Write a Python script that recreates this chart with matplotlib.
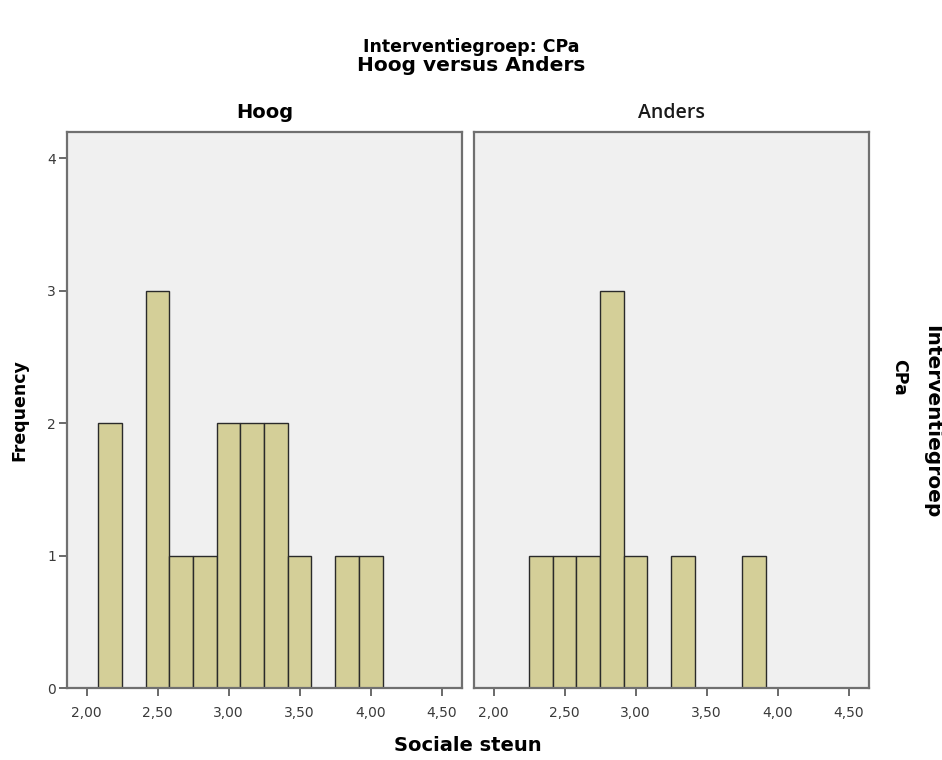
import numpy as np
import matplotlib
matplotlib.use('Agg')
import matplotlib.pyplot as plt
from matplotlib.ticker import FuncFormatter

plt.rcParams['font.family'] = ['DejaVu Sans']

# bin edges (bin width about 1/6)
bin_edges = [2.083, 2.250, 2.417, 2.583, 2.750, 2.917, 3.083,
             3.250, 3.417, 3.583, 3.750, 3.917, 4.083]
# counts per bin
hoog_counts = [2, 0, 3, 1, 1, 2, 2, 2, 1, 0, 1, 1]
anders_counts = [0, 1, 1, 1, 3, 1, 0, 1, 0, 0, 1, 0]

panel_titles = ['Hoog', 'Anders']
x_ticks = [2.0, 2.5, 3.0, 3.5, 4.0, 4.5]
y_ticks = [0, 1, 2, 3, 4]

bar_color = '#d4cf98'
bg_color = '#f0f0f0'
frame_color = '#707070'

fig = plt.figure(figsize=(9.42, 7.6), dpi=100)
ax1 = fig.add_axes([0.0711, 0.0947, 0.4193, 0.7316])
ax2 = fig.add_axes([0.5032, 0.0947, 0.4193, 0.7316], sharey=ax1)

comma_fmt = FuncFormatter(lambda v, p: f'{v:.2f}'.replace('.', ','))

for ax, counts, title in zip([ax1, ax2], [hoog_counts, anders_counts], panel_titles):
    centers = [(bin_edges[i] + bin_edges[i + 1]) / 2 for i in range(len(counts))]
    ax.hist(centers, bins=bin_edges, weights=counts, color=bar_color,
            edgecolor='#2a2a2a', linewidth=1.0)
    ax.set_facecolor(bg_color)
    ax.set_xlim(1.862, 4.642)
    ax.set_ylim(0, 4.2)
    ax.set_xticks(x_ticks)
    ax.xaxis.set_major_formatter(comma_fmt)
    ax.set_yticks(y_ticks)
    for s in ax.spines.values():
        s.set_color(frame_color)
        s.set_linewidth(1.6)
    ax.tick_params(axis='both', direction='out', length=6, width=1.2,
                   color='#505050', labelsize=10, labelcolor='#3a3a3a')
    ax.tick_params(axis='x', pad=7)
    ax.tick_params(axis='y', pad=2)

ax1.set_title('Hoog', fontsize=14, fontweight='bold', pad=10)
ax2.set_title('Anders', fontsize=14, fontweight='semibold', pad=10, color='#1a1a1a',
              family='Open Sans')
ax2.tick_params(axis='y', left=False, labelleft=False)

fig.text(0.021, 0.46, 'Frequency', rotation=90, ha='center', va='center',
         fontsize=12.5, fontweight='bold')
fig.text(0.497, 0.019, 'Sociale steun', ha='center', va='center',
         fontsize=14, fontweight='bold')
fig.text(0.5, 0.938, 'Interventiegroep: CPa', ha='center', va='center',
         fontsize=12.5, fontweight='bold', family='Liberation Sans Narrow')
fig.text(0.5, 0.914, 'Hoog versus Anders', ha='center', va='center',
         fontsize=14.5, fontweight='bold', family='Liberation Sans Narrow')
fig.text(0.955, 0.503, 'CPa', rotation=270, ha='center', va='center',
         fontsize=12.5, fontweight='bold')
fig.text(0.989, 0.445, 'Interventiegroep', rotation=270, ha='center', va='center',
         fontsize=14.5, fontweight='bold')

fig.savefig('out.png', dpi=100, facecolor='white')
